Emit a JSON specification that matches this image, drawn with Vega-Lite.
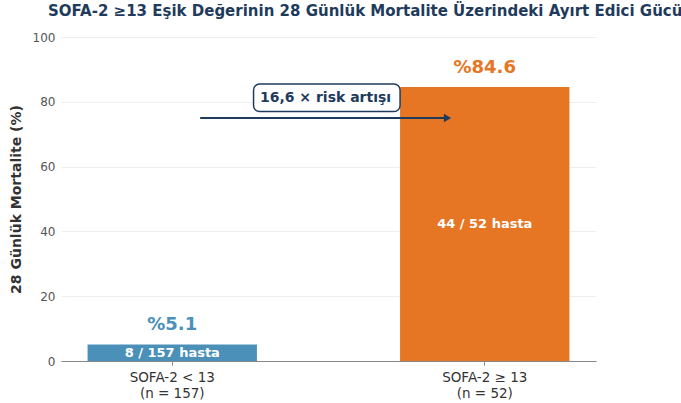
{
  "$schema": "https://vega.github.io/schema/vega-lite/v6.json",
  "width": 535,
  "height": 324,
  "autosize": {"type": "none"},
  "padding": {"left": 61, "top": 37, "right": 85, "bottom": 42},
  "background": "white",
  "config": {
    "font": "DejaVu Sans",
    "view": {"stroke": null}
  },
  "title": {
    "text": "SOFA-2 ≥13 Eşik Değerinin 28 Günlük Mortalite Üzerindeki Ayırt Edici Gücü",
    "font": "DejaVu Sans",
    "fontSize": 15,
    "fontWeight": "bold",
    "color": "#1f3b5c",
    "anchor": "start",
    "frame": "group",
    "dx": -13,
    "offset": 12
  },
  "data": {
    "values": [
      {"grup": "SOFA-2 < 13", "n": 157, "olay": 8, "mortalite": 5.1, "yuzde": "%5.1", "hasta": "8 / 157 hasta"},
      {"grup": "SOFA-2 ≥ 13", "n": 52, "olay": 44, "mortalite": 84.6, "yuzde": "%84.6", "hasta": "44 / 52 hasta"}
    ]
  },
  "encoding": {
    "x": {
      "field": "grup",
      "type": "nominal",
      "sort": null,
      "scale": {"paddingInner": 0.458, "paddingOuter": 0.085},
      "axis": {
        "title": null,
        "labelAngle": 0,
        "labelFont": "DejaVu Sans",
        "labelFontSize": 13.5,
        "labelColor": "#333333",
        "labelPadding": 5,
        "labelLineHeight": 16,
        "labelExpr": "[datum.label, datum.label == 'SOFA-2 < 13' ? '(n = 157)' : '(n = 52)']",
        "domainColor": "#888888",
        "domainWidth": 1.2,
        "tickColor": "#888888",
        "tickSize": 4,
        "grid": false
      }
    }
  },
  "layer": [
    {
      "mark": {"type": "bar"},
      "encoding": {
        "y": {
          "field": "mortalite",
          "type": "quantitative",
          "scale": {"domain": [0, 100]},
          "axis": {
            "title": "28 Günlük Mortalite (%)",
            "titleFont": "DejaVu Sans",
            "titleFontSize": 14,
            "titleFontWeight": "bold",
            "titleColor": "#333333",
            "titlePadding": 9,
            "values": [0, 20, 40, 60, 80, 100],
            "labelFont": "DejaVu Sans",
            "labelFontSize": 12,
            "labelColor": "#555555",
            "labelPadding": 6,
            "tickSize": 0,
            "domain": false,
            "grid": true,
            "gridColor": "#eeeeee",
            "gridWidth": 1
          }
        },
        "color": {
          "field": "grup",
          "type": "nominal",
          "scale": {"domain": ["SOFA-2 < 13", "SOFA-2 ≥ 13"], "range": ["#4a90b9", "#e67624"]},
          "legend": null
        }
      }
    },
    {
      "mark": {"type": "text", "fontSize": 18, "fontWeight": "bold", "baseline": "bottom", "dy": -10},
      "encoding": {
        "y": {"field": "mortalite", "type": "quantitative"},
        "text": {"field": "yuzde"},
        "color": {"field": "grup", "type": "nominal"}
      }
    },
    {
      "transform": [{"calculate": "datum.mortalite / 2", "as": "orta"}],
      "mark": {"type": "text", "fontSize": 13, "fontWeight": "bold", "color": "white", "baseline": "middle"},
      "encoding": {
        "y": {"field": "orta", "type": "quantitative"},
        "text": {"field": "hasta"}
      }
    },
    {
      "data": {"values": [{}]},
      "mark": {"type": "rule", "color": "#1f3b5c", "strokeWidth": 2},
      "encoding": {
        "x": {"datum": "SOFA-2 < 13", "bandPosition": 0.665},
        "x2": {"datum": "SOFA-2 ≥ 13", "bandPosition": 0.26},
        "y": {"datum": 75}
      }
    },
    {
      "data": {"values": [{}]},
      "mark": {"type": "point", "shape": "triangle-right", "filled": true, "color": "#1f3b5c", "size": 70, "opacity": 1},
      "encoding": {
        "x": {"datum": "SOFA-2 ≥ 13", "bandPosition": 0.28},
        "y": {"datum": 75}
      }
    },
    {
      "data": {"values": [{}]},
      "mark": {"type": "rect", "fill": "white", "stroke": "#1f3b5c", "strokeWidth": 1.5, "cornerRadius": 6},
      "encoding": {
        "x": {"datum": "SOFA-2 < 13", "bandPosition": 0.98},
        "x2": {"datum": "SOFA-2 ≥ 13", "bandPosition": 0.0},
        "y": {"datum": 85.5},
        "y2": {"datum": 77.0}
      }
    },
    {
      "data": {"values": [{}]},
      "mark": {"type": "text", "fontSize": 14, "fontWeight": "bold", "color": "#1f3b5c", "baseline": "middle", "text": "16,6 × risk artışı"},
      "encoding": {
        "x": {"datum": "SOFA-2 ≥ 13", "bandPosition": -0.44},
        "y": {"datum": 81.3}
      }
    }
  ]
}
